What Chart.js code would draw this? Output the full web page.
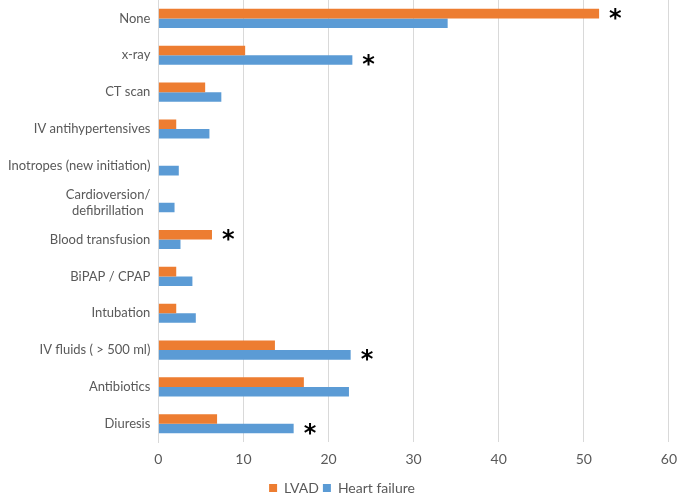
<!DOCTYPE html>
<html>
<head>
<meta charset="utf-8">
<script src="https://cdn.jsdelivr.net/npm/chart.js@4/dist/chart.umd.min.js"></script>
<style>
  body { margin: 0; background: #fff; }
  #wrap { width: 686px; height: 497px; }
</style>
</head>
<body>
<div id="wrap"><canvas id="chart"></canvas></div>
<script>
const categories = [
  "None", "x-ray", "CT scan", "IV antihypertensives", "Inotropes (new initiation)",
  ["Cardioversion/", "defibrillation  "], "Blood transfusion", "BiPAP / CPAP",
  "Intubation", "IV fluids ( > 500 ml)", "Antibiotics", "Diuresis"
];
const lvad = [51.8, 10.2, 5.5, 2.1, 0, 0, 6.3, 2.1, 2.1, 13.7, 17.1, 6.9];
const heartFailure = [34.0, 22.8, 7.4, 6.0, 2.4, 1.9, 2.6, 4.0, 4.4, 22.6, 22.4, 15.9];
// which bar gets the significance star (0 = LVAD, 1 = Heart failure, null = none)
const significant = [0, 1, null, null, null, null, 0, null, null, 1, null, 1];
const xTicks = [0, 10, 20, 30, 40, 50, 60];

const starPlugin = {
  id: "stars",
  afterDatasetsDraw(chart) {
    const ctx = chart.ctx;
    ctx.save();
    ctx.fillStyle = "#000";
    ctx.font = "bold 24px 'DejaVu Sans'";
    ctx.textAlign = "left";
    ctx.textBaseline = "middle";
    significant.forEach(function(d, i) {
      if (d === null) return;
      const bar = chart.getDatasetMeta(d).data[i];
      ctx.fillText("*", bar.x + 10, bar.y + 6);
    });
    ctx.restore();
  }
};

const ctx = document.getElementById("chart").getContext("2d");
new Chart(ctx, {
  type: "bar",
  data: {
    labels: categories,
    datasets: [
      { label: "LVAD", data: lvad, backgroundColor: "#ED7D31" },
      { label: "Heart failure", data: heartFailure, backgroundColor: "#5B9BD5" }
    ]
  },
  options: {
    indexAxis: "y",
    responsive: true,
    maintainAspectRatio: false,
    animation: false,
    layout: { padding: { top: 0, right: 2, bottom: -8, left: 0 } },
    datasets: { bar: { categoryPercentage: 0.52, barPercentage: 1.0 } },
    scales: {
      x: {
        min: 0,
        max: 60,
        afterBuildTicks: function(axis) {
          axis.ticks = xTicks.map(function(v) { return { value: v }; });
        },
        grid: { color: "#d9d9d9", drawTicks: false },
        border: { display: false },
        ticks: { color: "#595959", font: { family: "Lato", size: 14 }, padding: 9 }
      },
      y: {
        afterFit: function(scale) {
          scale.paddingTop = 0;
          scale.paddingBottom = 0;
        },
        grid: { display: false, drawTicks: false },
        border: { display: true, color: "#d9d9d9" },
        ticks: { color: "#595959", font: { family: "Lato", size: 13 }, padding: 8, autoSkip: false }
      }
    },
    plugins: {
      legend: {
        position: "bottom",
        labels: {
          color: "#595959",
          font: { family: "Lato", size: 14 },
          boxWidth: 8,
          boxHeight: 8,
          padding: 4
        }
      },
      tooltip: { enabled: false }
    }
  },
  plugins: [starPlugin]
});
</script>
</body>
</html>
